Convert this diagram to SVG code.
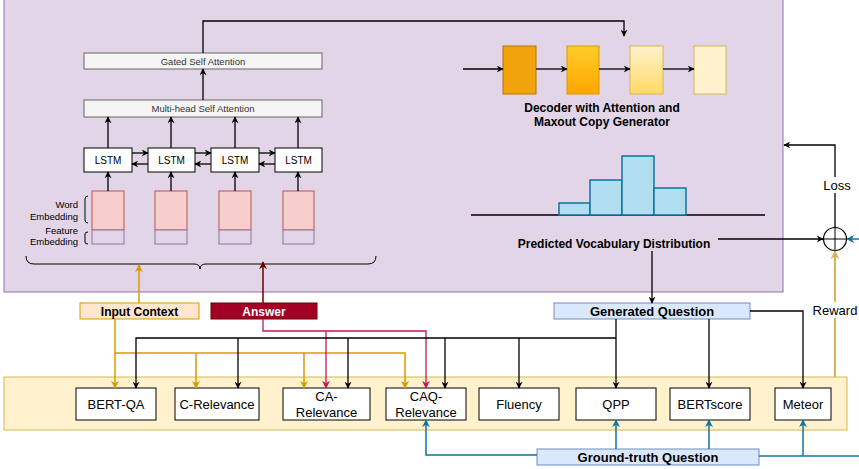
<svg xmlns="http://www.w3.org/2000/svg" width="859" height="469" viewBox="0 0 859 469">
<defs>
<marker id="ab" viewBox="0 0 10 10" refX="9" refY="5" markerWidth="7" markerHeight="7" orient="auto" markerUnits="userSpaceOnUse"><path d="M0,0 L10,5 L0,10 L3,5 z" fill="#000"/></marker>
<marker id="ag" viewBox="0 0 10 10" refX="9" refY="5" markerWidth="8" markerHeight="8" orient="auto" markerUnits="userSpaceOnUse"><path d="M0,0 L10,5 L0,10 L3,5 z" fill="#d79b00"/></marker>
<marker id="ay" viewBox="0 0 10 10" refX="9" refY="5" markerWidth="9" markerHeight="9" orient="auto" markerUnits="userSpaceOnUse"><path d="M0,0 L10,5 L0,10 L3,5 z" fill="#d6b656"/></marker>
<marker id="ar" viewBox="0 0 10 10" refX="9" refY="5" markerWidth="8" markerHeight="8" orient="auto" markerUnits="userSpaceOnUse"><path d="M0,0 L10,5 L0,10 L3,5 z" fill="#6f0000"/></marker>
<marker id="ac" viewBox="0 0 10 10" refX="9" refY="5" markerWidth="8" markerHeight="8" orient="auto" markerUnits="userSpaceOnUse"><path d="M0,0 L10,5 L0,10 L3,5 z" fill="#c0185a"/></marker>
<marker id="abl" viewBox="0 0 10 10" refX="9" refY="5" markerWidth="8" markerHeight="8" orient="auto" markerUnits="userSpaceOnUse"><path d="M0,0 L10,5 L0,10 L3,5 z" fill="#10739e"/></marker>
<linearGradient id="g2" x1="0" y1="0" x2="0" y2="1"><stop offset="0" stop-color="#ffcd28"/><stop offset="1" stop-color="#ffa500"/></linearGradient>
<linearGradient id="g3" x1="0" y1="0" x2="0" y2="1"><stop offset="0" stop-color="#fff2cc"/><stop offset="1" stop-color="#ffd966"/></linearGradient>
</defs>
<style>
text{font-family:"Liberation Sans",Arial,sans-serif;text-anchor:middle}
.att{fill:#f5f5f5;stroke:#666;stroke-width:1}
.att-t{font-size:9.5px;fill:#333}
.lstm{fill:#fff;stroke:#000;stroke-width:1}
.lstm-t{font-size:10px;fill:#000}
.we{fill:#f8cecc;stroke:#b85450;stroke-width:1}
.fe{fill:#e1d5e7;stroke:#9673a6;stroke-width:1}
.lbl{font-size:9.5px;fill:#000;text-anchor:end}
.bold{font-weight:bold;font-size:12px;fill:#000}
.bar{fill:#b1ddf0;stroke:#10739e;stroke-width:1.5}
.met{fill:#fff;stroke:#000;stroke-width:1}
.met-t{font-size:13px;fill:#000}
.blk{fill:none;stroke:#000;stroke-width:1.3}
.gold{fill:none;stroke:#d79b00;stroke-width:1.5}
.crim{fill:none;stroke:#c0185a;stroke-width:1.3}
.blue{fill:none;stroke:#10739e;stroke-width:1.5}
</style>

<g id="encoder-panel">
<rect x="4" y="-1" width="779" height="293" fill="#e1d5e7" stroke="#9673a6" stroke-width="1"/>
</g>
<g id="metrics-panel">
<rect x="4" y="377" width="843" height="53" fill="#fff2cc" stroke="#d6b656" stroke-width="1"/>
</g>

<g id="gated-self-attention"><rect class="att" x="84" y="53" width="238" height="16"/><text class="att-t" x="203" y="64.5">Gated Self Attention</text></g>
<g id="multi-head-self-attention"><rect class="att" x="84" y="100" width="238" height="17"/><text class="att-t" x="203" y="112">Multi-head Self Attention</text></g>

<g id="lstm1"><rect class="lstm" x="84" y="148" width="48" height="24"/><text class="lstm-t" x="108" y="163.5">LSTM</text></g>
<g id="lstm2"><rect class="lstm" x="148" y="148" width="47" height="24"/><text class="lstm-t" x="171.5" y="163.5">LSTM</text></g>
<g id="lstm3"><rect class="lstm" x="211" y="148" width="48" height="24"/><text class="lstm-t" x="235" y="163.5">LSTM</text></g>
<g id="lstm4"><rect class="lstm" x="275" y="148" width="47" height="24"/><text class="lstm-t" x="298.5" y="163.5">LSTM</text></g>

<g id="emb1"><rect class="we" x="92" y="191" width="32" height="39"/><rect class="fe" x="92" y="230" width="32" height="14"/></g>
<g id="emb2"><rect class="we" x="155" y="191" width="32" height="39"/><rect class="fe" x="155" y="230" width="32" height="14"/></g>
<g id="emb3"><rect class="we" x="219" y="191" width="32" height="39"/><rect class="fe" x="219" y="230" width="32" height="14"/></g>
<g id="emb4"><rect class="we" x="283" y="191" width="31" height="39"/><rect class="fe" x="283" y="230" width="31" height="14"/></g>

<g id="embedding-labels">
<text class="lbl" x="78" y="208">Word</text>
<text class="lbl" x="78" y="220">Embedding</text>
<text class="lbl" x="78" y="234">Feature</text>
<text class="lbl" x="78" y="245">Embedding</text>
<path d="M88,196 Q85,196 85,199 L85,220 Q85,223 88,223" fill="none" stroke="#000" stroke-width="1"/>
<path d="M88,232 Q85,232 85,234 L85,242 Q85,244 88,244" fill="none" stroke="#000" stroke-width="1"/>
<path d="M26,256 Q26,264 34,264 L194,264 Q200,264 200,269 Q200,264 206,264 L368,264 Q376,264 376,256" fill="none" stroke="#000" stroke-width="1"/>
</g>

<g id="decoder">
<rect x="503" y="46" width="33" height="48" fill="#f0a30a" stroke="#bd7000"/>
<rect x="567" y="46" width="32" height="48" fill="url(#g2)" stroke="#d79b00"/>
<rect x="630" y="46" width="33" height="48" fill="url(#g3)" stroke="#d6b656"/>
<rect x="694" y="46" width="32" height="48" fill="#fff2cc" stroke="#d6b656"/>
<text class="bold" x="602" y="112">Decoder with Attention and</text>
<text class="bold" x="602" y="126">Maxout Copy Generator</text>
</g>

<g id="vocab-distribution">
<line x1="471" y1="215" x2="765" y2="215" stroke="#000" stroke-width="1.3"/>
<rect class="bar" x="559" y="203" width="31" height="12"/>
<rect class="bar" x="590" y="180" width="32" height="35"/>
<rect class="bar" x="622" y="156" width="32" height="59"/>
<rect class="bar" x="654" y="188" width="32" height="27"/>
<text class="bold" x="614" y="248">Predicted Vocabulary Distribution</text>
</g>

<g id="sum-node"><circle cx="835" cy="239" r="11.5" fill="none" stroke="#000" stroke-width="1.2"/><line x1="823.5" y1="239" x2="846.5" y2="239" stroke="#000"/><line x1="835" y1="227.5" x2="835" y2="250.5" stroke="#000"/></g>

<g id="input-context"><rect x="80" y="303" width="119" height="16" fill="#ffe6cc" stroke="#d79b00"/><text class="bold" x="139.5" y="315.5">Input Context</text></g>
<g id="answer"><rect x="211" y="303" width="106" height="16" fill="#a20025" stroke="#6f0000"/><text class="bold" x="264" y="315.5" style="fill:#fff">Answer</text></g>
<g id="generated-question"><rect x="554" y="303" width="196" height="16" fill="#dae8fc" stroke="#6c8ebf"/><text class="bold" x="652" y="316" style="font-size:13px">Generated Question</text></g>
<g id="ground-truth-question"><rect x="537" y="449" width="222" height="16" fill="#dae8fc" stroke="#6c8ebf"/><text class="bold" x="648" y="462" style="font-size:13px">Ground-truth Question</text></g>

<g id="bert-qa"><rect class="met" x="76" y="388" width="80" height="32"/><text class="met-t" x="116" y="409">BERT-QA</text></g>
<g id="c-relevance"><rect class="met" x="175" y="388" width="84" height="32"/><text class="met-t" x="217" y="409">C-Relevance</text></g>
<g id="ca-relevance"><rect class="met" x="283" y="388" width="87" height="32"/><text class="met-t" x="326.5" y="401">CA-</text><text class="met-t" x="326.5" y="417">Relevance</text></g>
<g id="caq-relevance"><rect class="met" x="386" y="388" width="80" height="32"/><text class="met-t" x="426" y="401">CAQ-</text><text class="met-t" x="426" y="417">Relevance</text></g>
<g id="fluency"><rect class="met" x="479" y="388" width="80" height="32"/><text class="met-t" x="519" y="409">Fluency</text></g>
<g id="qpp"><rect class="met" x="576" y="388" width="80" height="32"/><text class="met-t" x="616" y="409">QPP</text></g>
<g id="bertscore"><rect class="met" x="670" y="388" width="80" height="32"/><text class="met-t" x="710" y="409">BERTscore</text></g>
<g id="meteor"><rect class="met" x="775" y="388" width="56" height="32"/><text class="met-t" x="803" y="409">Meteor</text></g>

<g id="connectors">
<!-- encoder -->
<path class="blk" d="M108,191 V172" marker-end="url(#ab)"/>
<path class="blk" d="M171,191 V172" marker-end="url(#ab)"/>
<path class="blk" d="M235,191 V172" marker-end="url(#ab)"/>
<path class="blk" d="M298,191 V172" marker-end="url(#ab)"/>
<path class="blk" d="M108,148 V117" marker-end="url(#ab)"/>
<path class="blk" d="M171,148 V117" marker-end="url(#ab)"/>
<path class="blk" d="M235,148 V117" marker-end="url(#ab)"/>
<path class="blk" d="M298,148 V117" marker-end="url(#ab)"/>
<path class="blk" d="M132,153 H148" marker-end="url(#ab)"/>
<path class="blk" d="M148,164 H132" marker-end="url(#ab)"/>
<path class="blk" d="M195,153 H211" marker-end="url(#ab)"/>
<path class="blk" d="M211,164 H195" marker-end="url(#ab)"/>
<path class="blk" d="M259,153 H275" marker-end="url(#ab)"/>
<path class="blk" d="M275,164 H259" marker-end="url(#ab)"/>
<path class="blk" d="M203,100 V69" marker-end="url(#ab)"/>
<path class="blk" d="M203,53 V21 H624 V36" marker-end="url(#ab)"/>
<!-- decoder -->
<path class="blk" d="M463,69 H503" marker-end="url(#ab)"/>
<path class="blk" d="M536,69 H567" marker-end="url(#ab)"/>
<path class="blk" d="M599,69 H630" marker-end="url(#ab)"/>
<path class="blk" d="M663,69 H694" marker-end="url(#ab)"/>
<!-- vocab / loss -->
<path class="blk" d="M718,239 H823" marker-end="url(#ab)"/>
<path class="blk" d="M652,251 V303" marker-end="url(#ab)"/>
<path class="blk" d="M835,227 V145 H784" marker-end="url(#ab)"/>
<rect x="818" y="177" width="34" height="16" fill="#fff"/>
<text x="837" y="190" style="font-size:13px">Loss</text>
<path d="M835,377 V251" fill="none" stroke="#d6b656" stroke-width="2" marker-end="url(#ay)"/>
<rect x="812" y="302" width="47" height="16" fill="#fff"/>
<text x="835" y="315" style="font-size:13px">Reward</text>
<path class="blue" d="M859,239 H847" marker-end="url(#abl)"/>
<!-- input context / answer up -->
<path class="gold" d="M139,303 V265" marker-end="url(#ag)"/>
<path d="M263,303 V262" fill="none" stroke="#6f0000" stroke-width="1.5" marker-end="url(#ar)"/>
<!-- input context down -->
<path class="gold" d="M115,319 V388" marker-end="url(#ag)"/>
<path class="gold" d="M115,353 H405 V388" marker-end="url(#ag)"/>
<path class="gold" d="M196,353 V388" marker-end="url(#ag)"/>
<path class="gold" d="M304,353 V388" marker-end="url(#ag)"/>
<!-- answer down -->
<path class="crim" d="M263,319 V331 H426 V388" marker-end="url(#ac)"/>
<path class="crim" d="M326,331 V388" marker-end="url(#ac)"/>
<!-- generated question -->
<path class="blk" d="M616,319 V388" marker-end="url(#ab)"/>
<path class="blk" d="M616,338 H136 V388" marker-end="url(#ab)"/>
<path class="blk" d="M238,338 V388" marker-end="url(#ab)"/>
<path class="blk" d="M348,338 V388" marker-end="url(#ab)"/>
<path class="blk" d="M445,338 V388" marker-end="url(#ab)"/>
<path class="blk" d="M519,338 V388" marker-end="url(#ab)"/>
<path class="blk" d="M709,319 V388" marker-end="url(#ab)"/>
<path class="blk" d="M750,311 H803 V388" marker-end="url(#ab)"/>
<!-- ground truth -->
<path class="blue" d="M537,455 H426 V420" marker-end="url(#abl)"/>
<path class="blue" d="M616,449 V420" marker-end="url(#abl)"/>
<path class="blue" d="M709,449 V420" marker-end="url(#abl)"/>
<path class="blue" d="M759,456 H859"/>
<path class="blue" d="M803,456 V420" marker-end="url(#abl)"/>
</g>
</svg>
